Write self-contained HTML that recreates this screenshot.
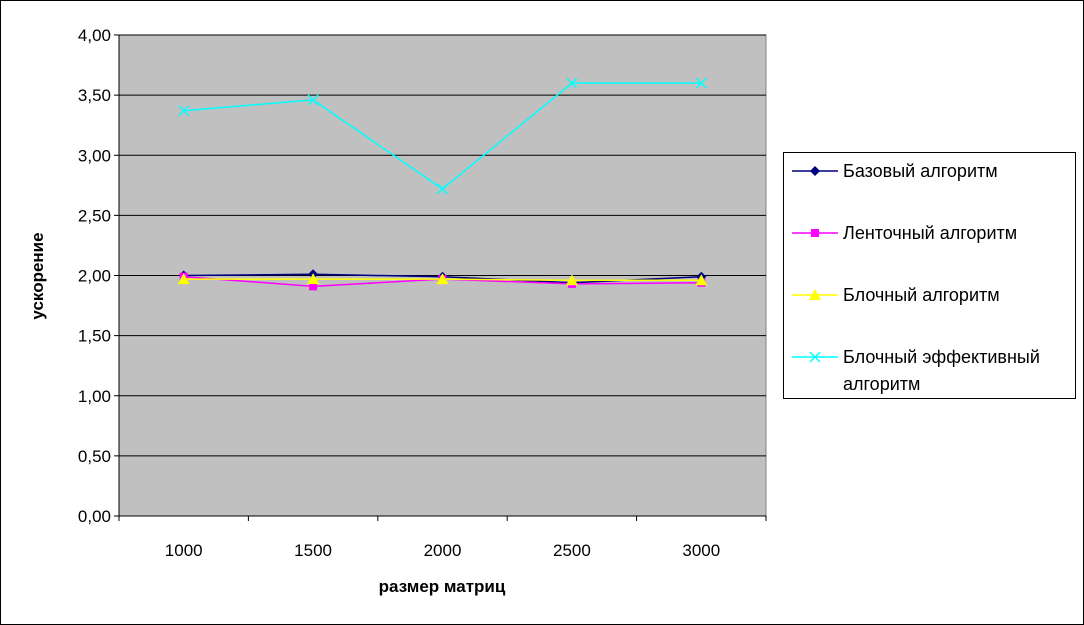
<!DOCTYPE html>
<html><head><meta charset="utf-8"><style>
body{margin:0;background:#fff;}
svg{display:block;font-family:"Liberation Sans",Arial,sans-serif;}
</style></head><body>
<svg id="c" width="1084" height="625">
<rect x="0.5" y="0.5" width="1083" height="624" fill="#fff" stroke="#000"/>
<rect x="119" y="35" width="647" height="481" fill="#c0c0c0" stroke="#808080"/>
<g id="grid"></g><g id="axes"></g><g id="series"></g>
<text x="442" y="592" font-size="17" font-weight="bold" text-anchor="middle">размер матриц</text>
<text transform="translate(43,276) rotate(-90)" font-size="17" font-weight="bold" text-anchor="middle">ускорение</text>
<g>
<rect x="783.5" y="152.5" width="292" height="246" fill="#fff" stroke="#000"/>
<g id="legend"></g>
</g>
</svg>
<script>
const categories=["1000","1500","2000","2500","3000"];
const baseVals=[2.00,2.01,1.99,1.94,1.99];
const lentaVals=[1.99,1.91,1.97,1.93,1.94];
const blockVals=[1.97,1.97,1.97,1.96,1.96];
const effVals=[3.37,3.46,2.72,3.60,3.60];
const yTicks=["0,00","0,50","1,00","1,50","2,00","2,50","3,00","3,50","4,00"];
const seriesNames=["Базовый алгоритм","Ленточный алгоритм","Блочный алгоритм","Блочный эффективный"];
const NS="http://www.w3.org/2000/svg";
const L=119,R=766,T=35,B=516,ymax=4;
const xs=i=>L+(i+0.5)*(R-L)/categories.length;
const ys=v=>B-v/ymax*(B-T);
function mk(t,a,p){const e=document.createElementNS(NS,t);for(const k in a)e.setAttribute(k,a[k]);p.appendChild(e);return e;}
const grid=document.getElementById('grid'),axes=document.getElementById('axes'),ser=document.getElementById('series'),leg=document.getElementById('legend');
yTicks.forEach((t,i)=>{const v=i*0.5,y=ys(v);
 if(i>0){const g=mk('line',{x1:L,x2:R,y1:y,y2:y,stroke:'#000'},grid);}
 mk('line',{x1:L-5,x2:L,y1:y,y2:y,stroke:'#000'},axes);
 const tx=mk('text',{x:L-8,y:y+6,'font-size':17,'text-anchor':'end'},axes);tx.textContent=t;
 
 
});
mk('line',{x1:L,x2:L,y1:T,y2:B,stroke:'#000'},axes);
mk('line',{x1:L,x2:R,y1:B,y2:B,stroke:'#000'},axes);
for(let i=0;i<=categories.length;i++){const x=L+i*(R-L)/categories.length;mk('line',{x1:x,x2:x,y1:B,y2:B+5,stroke:'#000'},axes);}
categories.forEach((c,i)=>{const tx=mk('text',{x:xs(i),y:556,'font-size':17,'text-anchor':'middle'},axes);tx.textContent=c;
 
 });
function marker(kind,x,y,col,p){
 if(kind==='d')return mk('polygon',{points:`${x},${y-5} ${x+5},${y} ${x},${y+5} ${x-5},${y}`,fill:col},p);
 if(kind==='s')return mk('rect',{x:x-4,y:y-4,width:8,height:8,fill:col},p);
 if(kind==='t')return mk('polygon',{points:`${x},${y-6} ${x+6},${y+5} ${x-6},${y+5}`,fill:col},p);
 const g=mk('g',{},p);mk('line',{x1:x-5,y1:y-5,x2:x+5,y2:y+5,stroke:col,'stroke-width':1.5},g);mk('line',{x1:x-5,y1:y+5,x2:x+5,y2:y-5,stroke:col,'stroke-width':1.5},g);return g;}
const defs=[[baseVals,'#000080','d','series-base'],[lentaVals,'#ff00ff','s','series-lenta'],[blockVals,'#ffff00','t','series-block'],[effVals,'#00ffff','x','series-block-eff']];
defs.forEach(([vals,col,k,name])=>{
 const g=mk('g',{},ser);
 mk('polyline',{points:vals.map((v,i)=>xs(i)+','+ys(v)).join(' '),fill:'none',stroke:col,'stroke-width':1.5},g);
 vals.forEach((v,i)=>{const m=marker(k,xs(i),ys(v),col,g);});
});
const ly=[171,233,295,357];
defs.forEach(([vals,col,k],i)=>{
 const g=mk('g',{},leg);
 mk('line',{x1:792,x2:838,y1:ly[i],y2:ly[i],stroke:col,'stroke-width':1.5},g);
 marker(k,815,ly[i],col,g);
 const t=mk('text',{x:843,y:ly[i]+6,'font-size':18},g);t.textContent=seriesNames[i];
 if(i===3){const t2=mk('text',{x:843,y:ly[i]+33,'font-size':18},g);t2.textContent='алгоритм';}
});
</script>
</body></html>
